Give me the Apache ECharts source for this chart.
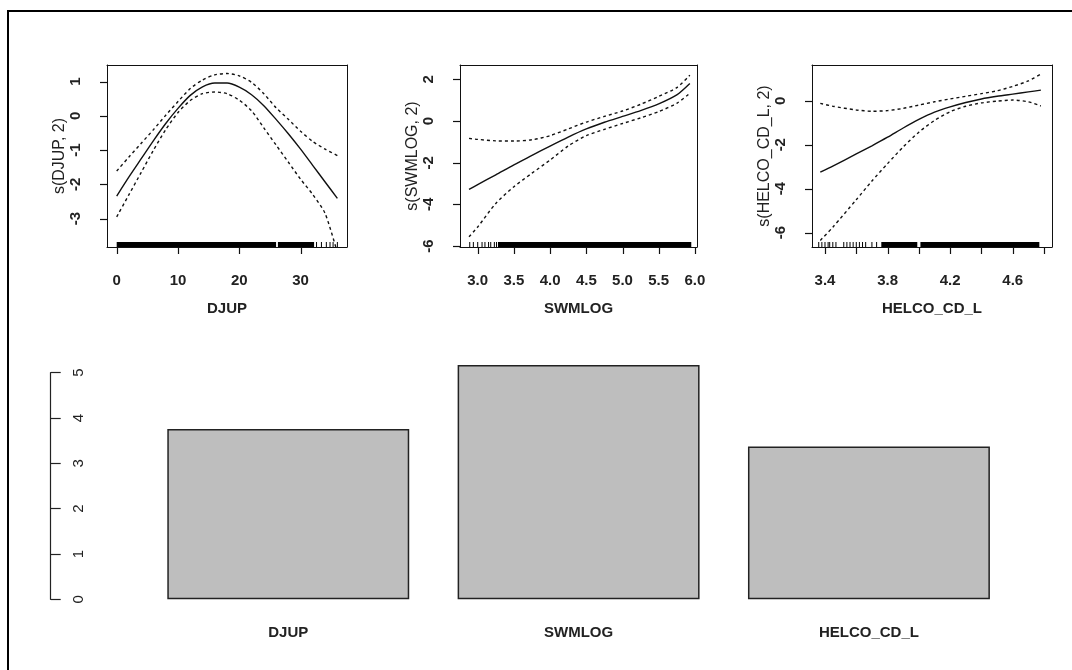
<!DOCTYPE html>
<html>
<head>
<meta charset="utf-8">
<script src="https://cdn.jsdelivr.net/npm/echarts@6/dist/echarts.min.js"></script>
<style>
  html, body { margin: 0; padding: 0; background: #fff; }
  #chart { width: 1072px; height: 670px; }
</style>
</head>
<body>
<div id="chart"></div>
<script>
// ---------- Panel 1: s(DJUP, 2) ----------
const djupX     = [0, 2, 4, 6, 8, 10, 12, 14, 16, 18, 20, 22, 24, 26, 28, 30, 32, 34, 36];
const djupFit   = [-2.34, -1.78, -1.25, -0.72, -0.22, 0.22, 0.60, 0.85, 0.96, 0.96, 0.84, 0.62, 0.30, -0.10, -0.52, -0.97, -1.45, -1.93, -2.41];
const djupUpper = [-1.61, -1.20, -0.80, -0.40, 0.02, 0.42, 0.80, 1.05, 1.20, 1.24, 1.17, 0.98, 0.65, 0.24, -0.10, -0.45, -0.75, -0.97, -1.16];
const djupLower = [-2.95, -2.30, -1.65, -1.00, -0.40, 0.10, 0.45, 0.65, 0.70, 0.65, 0.46, 0.15, -0.35, -0.85, -1.35, -1.85, -2.30, -2.85, -4.00];
const djupRug   = [[0, 26.0], [26.3, 32.2], [32.6, 32.6], [33.4, 33.4], [34.2, 34.2], [34.8, 34.8], [35.3, 35.3], [36.0, 36.0]];
const djupXTicks = [0, 10, 20, 30];
const djupYTicks = [-3, -2, -1, 0, 1];

// ---------- Panel 2: s(SWMLOG, 2) ----------
const swmX     = [2.88, 3.0, 3.25, 3.5, 3.75, 4.0, 4.25, 4.5, 4.75, 5.0, 5.25, 5.5, 5.75, 5.93];
const swmFit   = [-3.28, -3.05, -2.58, -2.10, -1.65, -1.20, -0.77, -0.38, -0.06, 0.22, 0.50, 0.82, 1.25, 1.80];
const swmUpper = [-0.83, -0.88, -0.95, -0.96, -0.90, -0.70, -0.38, -0.05, 0.22, 0.48, 0.80, 1.18, 1.60, 2.20];
const swmLower = [-5.55, -5.08, -3.95, -3.15, -2.50, -1.87, -1.20, -0.70, -0.40, -0.12, 0.15, 0.45, 0.85, 1.33];
const swmRug   = [[2.89, 2.89], [2.94, 2.94], [3.0, 3.0], [3.06, 3.06], [3.10, 3.10], [3.15, 3.15], [3.18, 3.18], [3.23, 3.23], [3.26, 3.26], [3.28, 5.95]];
const swmXTicks = [3.0, 3.5, 4.0, 4.5, 5.0, 5.5, 6.0];
const swmYTicks = [-6, -4, -2, 0, 2];

// ---------- Panel 3: s(HELCO_CD_L, 2) ----------
const helX     = [3.37, 3.45, 3.6, 3.7, 3.8, 3.9, 4.0, 4.1, 4.2, 4.3, 4.4, 4.5, 4.6, 4.7, 4.78];
const helFit   = [-3.25, -2.97, -2.42, -2.05, -1.66, -1.24, -0.85, -0.52, -0.28, -0.08, 0.08, 0.20, 0.30, 0.40, 0.48];
const helUpper = [-0.12, -0.25, -0.42, -0.48, -0.45, -0.35, -0.20, -0.05, 0.08, 0.20, 0.32, 0.45, 0.65, 0.90, 1.21];
const helLower = [-6.35, -5.75, -4.50, -3.65, -2.86, -2.10, -1.43, -0.90, -0.50, -0.25, -0.10, -0.02, 0.03, -0.05, -0.24];
const helRug   = [[3.36, 3.36], [3.38, 3.38], [3.40, 3.40], [3.42, 3.42], [3.43, 3.43], [3.45, 3.45], [3.47, 3.47],
                  [3.52, 3.52], [3.54, 3.54], [3.56, 3.56], [3.58, 3.58], [3.60, 3.60], [3.62, 3.62], [3.64, 3.64], [3.66, 3.66],
                  [3.70, 3.70], [3.73, 3.73], [3.76, 3.99], [4.01, 4.77]];
const helXTicks = [3.4, 3.6, 3.8, 4.0, 4.2, 4.4, 4.6, 4.8];
const helXLabels = [3.4, 3.8, 4.2, 4.6];
const helYTicks = [-6, -4, -2, 0];

// ---------- Bottom bar chart ----------
const barCategories = ['DJUP', 'SWMLOG', 'HELCO_CD_L'];
const barValues = [3.76, 5.17, 3.37];
const barYTicks = [0, 1, 2, 3, 4, 5];

// ---------- build ----------
const TXT = '#222';
const FONT = 'Liberation Sans, Arial, sans-serif';
const TICK_LEN = 7;

function zip(xs, ys) { return xs.map((x, i) => [x, ys[i]]); }

const panels = [
  { left: 107, width: 240, xmin: -1.582, xmax: 37.57, ymin: -3.83, ymax: 1.488,
    xTicks: djupXTicks, xLabels: djupXTicks, yTicks: djupYTicks, xName: 'DJUP', yName: 's(DJUP, 2)',
    x: djupX, fit: djupFit, up: djupUpper, lo: djupLower, rug: djupRug, fmt: v => String(v) },
  { left: 460, width: 237, xmin: 2.7555, xmax: 6.029, ymin: -6.04, ymax: 2.686,
    xTicks: swmXTicks, xLabels: swmXTicks, yTicks: swmYTicks, xName: 'SWMLOG', yName: 's(SWMLOG, 2)',
    x: swmX, fit: swmFit, up: swmUpper, lo: swmLower, rug: swmRug, fmt: v => Number(v).toFixed(1) },
  { left: 812, width: 240, xmin: 3.317, xmax: 4.851, ymin: -6.65, ymax: 1.623,
    xTicks: helXTicks, xLabels: helXLabels, yTicks: helYTicks, xName: 'HELCO_CD_L', yName: 's(HELCO_CD_L, 2)',
    x: helX, fit: helFit, up: helUpper, lo: helLower, rug: helRug, fmt: v => Number(v).toFixed(1) }
];

const grid = [], xAxis = [], yAxis = [], series = [];

panels.forEach((p, i) => {
  grid.push({ left: p.left, top: 65, width: p.width, height: 182, show: false });
  xAxis.push({
    type: 'value', gridIndex: i, min: p.xmin, max: p.xmax, position: 'bottom',
    axisLine: { show: true, onZero: false, lineStyle: { color: '#111', width: 1 } },
    splitLine: { show: false },
    axisTick: { show: false },
    axisLabel: { show: true, customValues: p.xLabels, margin: 26, color: TXT, fontSize: 15,
                 fontWeight: 'bold', fontFamily: FONT, formatter: p.fmt, hideOverlap: false },
    name: p.xName, nameLocation: 'middle', nameGap: 54,
    nameTextStyle: { color: TXT, fontSize: 15, fontWeight: 'bold', fontFamily: FONT }
  });
  xAxis.push({
    type: 'value', gridIndex: i, min: p.xmin, max: p.xmax, position: 'top',
    axisLine: { show: true, onZero: false, lineStyle: { color: '#111', width: 1 } },
    splitLine: { show: false }, axisTick: { show: false }, axisLabel: { show: false }
  });
  yAxis.push({
    type: 'value', gridIndex: i, min: p.ymin, max: p.ymax, position: 'left',
    axisLine: { show: true, onZero: false, lineStyle: { color: '#111', width: 1 } },
    splitLine: { show: false },
    axisTick: { show: false },
    axisLabel: { show: true, customValues: p.yTicks, rotate: 90, margin: 24, color: TXT, fontSize: 15,
                 fontWeight: 'bold', fontFamily: FONT, hideOverlap: false },
    name: p.yName, nameLocation: 'middle', nameGap: 38, nameRotate: 90,
    nameTextStyle: { color: TXT, fontSize: 16, fontFamily: FONT }
  });
  yAxis.push({
    type: 'value', gridIndex: i, min: p.ymin, max: p.ymax, position: 'right',
    axisLine: { show: true, onZero: false, lineStyle: { color: '#111', width: 1 } },
    splitLine: { show: false }, axisTick: { show: false }, axisLabel: { show: false }
  });
  const xi = 2 * i, yi = 2 * i;
  const base = { type: 'line', xAxisIndex: xi, yAxisIndex: yi, showSymbol: false, symbol: 'none',
                 smooth: 0.25, silent: true, animation: false };
  series.push(Object.assign({}, base, { data: zip(p.x, p.fit), lineStyle: { color: '#111', width: 1.4 } }));
  series.push(Object.assign({}, base, { data: zip(p.x, p.up), lineStyle: { color: '#111', width: 1.4, type: [3, 3] } }));
  series.push(Object.assign({}, base, { data: zip(p.x, p.lo), lineStyle: { color: '#111', width: 1.4, type: [3, 3] } }));
  series.push({
    type: 'custom', xAxisIndex: xi, yAxisIndex: yi, silent: true, animation: false,
    data: p.rug, clip: true,
    renderItem: function (params, api) {
      const cs = params.coordSys;
      const bottom = cs.y + cs.height;
      const x0 = api.coord([api.value(0), 0])[0];
      const x1 = api.coord([api.value(1), 0])[0];
      const w = Math.max(1, x1 - x0);
      return { type: 'rect', shape: { x: x0 - (x1 - x0 < 1 ? 0.5 : 0), y: bottom - 5, width: w, height: 5 },
               style: { fill: '#000' } };
    }
  });
});

// bottom bar grid
const bi = panels.length;
grid.push({ left: 143.1, width: 871, top: 372.7, bottom: 70.7, show: false });
xAxis.push({
  type: 'category', gridIndex: bi, data: barCategories,
  axisLine: { show: false }, axisTick: { show: false }, splitLine: { show: false },
  axisLabel: { margin: 26, color: TXT, fontSize: 15, fontWeight: 'bold', fontFamily: FONT }
});
yAxis.push({
  type: 'value', gridIndex: bi, min: 0, max: 5, interval: 1, offset: 92.4,
  axisLine: { show: true, onZero: false, lineStyle: { color: '#222', width: 1.2 } },
  axisTick: { show: true, inside: true, length: 10, lineStyle: { color: '#222', width: 1.2 } },
  splitLine: { show: false },
  axisLabel: { inside: true, rotate: 90, margin: 21, color: '#222', fontSize: 15, fontFamily: FONT,
               customValues: barYTicks }
});
series.push({
  type: 'bar', xAxisIndex: xAxis.length - 1, yAxisIndex: yAxis.length - 1, data: barValues,
  barWidth: '83.33%', clip: false, silent: true, animation: false,
  itemStyle: { color: '#bebebe', borderColor: '#222', borderWidth: 1.5 }
});

const frame = {
  id: 'frame', type: 'polyline', silent: true,
  shape: { points: [[8, 670], [8, 11], [1072, 11]] },
  style: { stroke: '#000', lineWidth: 2, fill: null }
};

const chart = echarts.init(document.getElementById('chart'), null, { renderer: 'canvas' });
chart.setOption({
  animation: false,
  backgroundColor: '#fff',
  textStyle: { fontFamily: FONT },
  grid, xAxis, yAxis, series,
  graphic: [frame]
});

// Outward tick marks, positioned through the axes' own scales (convertToPixel)
const tickGraphics = [];
panels.forEach((p, i) => {
  const xi = 2 * i, yi = 2 * i;
  const bottomPx = chart.convertToPixel({ yAxisIndex: yi }, p.ymin);
  const leftPx = chart.convertToPixel({ xAxisIndex: xi }, p.xmin);
  p.xTicks.forEach((v, k) => {
    const x = Math.round(chart.convertToPixel({ xAxisIndex: xi }, v)) + 0.5;
    tickGraphics.push({ id: 'xt' + i + '_' + k, type: 'line', silent: true, z: 100,
      shape: { x1: x, y1: bottomPx, x2: x, y2: bottomPx + TICK_LEN },
      style: { stroke: '#111', lineWidth: 1.2 } });
  });
  p.yTicks.forEach((v, k) => {
    const y = Math.round(chart.convertToPixel({ yAxisIndex: yi }, v)) + 0.5;
    tickGraphics.push({ id: 'yt' + i + '_' + k, type: 'line', silent: true, z: 100,
      shape: { x1: leftPx, y1: y, x2: leftPx - TICK_LEN, y2: y },
      style: { stroke: '#111', lineWidth: 1.2 } });
  });
});
chart.setOption({ graphic: [frame].concat(tickGraphics) });
</script>
</body>
</html>
